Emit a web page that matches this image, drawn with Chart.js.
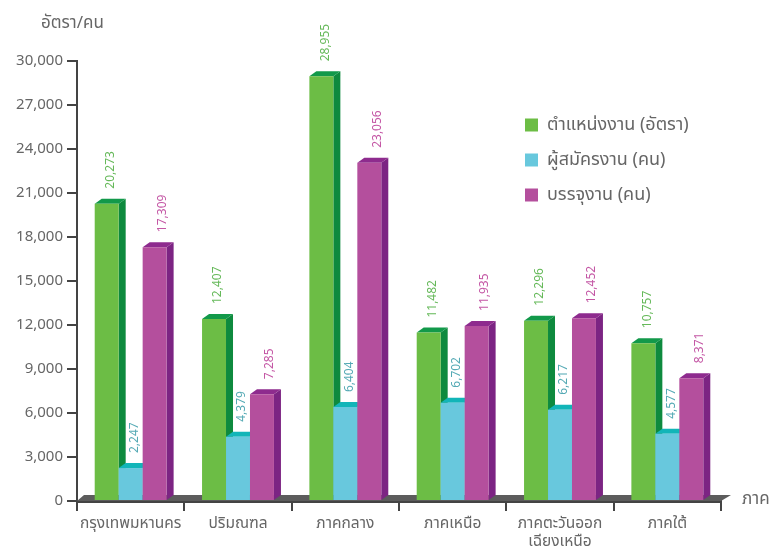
<!DOCTYPE html>
<html><head><meta charset="utf-8">
<style>html,body{margin:0;padding:0;background:#fff}canvas{display:block;filter:blur(0.5px)}</style>
<script src="https://cdn.jsdelivr.net/npm/chart.js@4"></script></head>
<body><canvas id="c" width="773" height="553"></canvas>
<script>
const categories = ['กรุงเทพมหานคร','ปริมณฑล','ภาคกลาง','ภาคเหนือ',['ภาคตะวันออก','เฉียงเหนือ'],'ภาคใต้'];
const seriesNames = ['ตำแหน่งงาน (อัตรา)','ผู้สมัครงาน (คน)','บรรจุงาน (คน)'];
const positions = [20273,12407,28955,11482,12296,10757];
const applicants = [2247,4379,6404,6702,6217,4577];
const placed = [17309,7285,23056,11935,12452,8371];
const FONT = '"Noto Sans","Noto Sans Thai","Liberation Sans",sans-serif';
const TEXT = '#666';
const front = ['#6cbd45','#68c8dd','#b44f9d'];
const side = ['#0e8a3e','#10a8ad','#7c2483'];
const topc = ['#12994a','#12b5b8','#8e2b8e'];
const labelc = ['#66b95a','#55aab5','#c457a5'];
const labelDx = [4,4,8];
const dx = 7, dy = 5;

const bar3d = {
  id:'bar3d',
  beforeDatasetDraw(){ return false; },
  afterDatasetsDraw(chart){
    const {ctx,chartArea:a} = chart;
    ctx.save();
    ctx.fillStyle='#5c5c5c';
    ctx.beginPath();ctx.moveTo(a.left,a.bottom);ctx.lineTo(a.left+dx,a.bottom-dy-1);ctx.lineTo(a.right+10,a.bottom-dy-1);ctx.lineTo(a.right,a.bottom);ctx.closePath();ctx.fill();
    ctx.restore();
    chart.data.datasets.forEach((d,i)=>{
      const meta=chart.getDatasetMeta(i);
      meta.data.forEach(b=>{
        const hw=b.width/2, l=b.x-hw, r=b.x+hw, t=b.y, bt=b.base;
        ctx.save();
        ctx.fillStyle=side[i];
        ctx.beginPath();ctx.moveTo(r,t);ctx.lineTo(r+dx,t-dy);ctx.lineTo(r+dx,bt-dy);ctx.lineTo(r,bt);ctx.closePath();ctx.fill();
        ctx.fillStyle=topc[i];
        ctx.beginPath();ctx.moveTo(l,t);ctx.lineTo(l+dx,t-dy);ctx.lineTo(r+dx,t-dy);ctx.lineTo(r,t);ctx.closePath();ctx.fill();
        ctx.restore();
      });
      meta.controller.draw();
    });
    ctx.save();
    chart.data.datasets.forEach((d,i)=>{
      chart.getDatasetMeta(i).data.forEach((b,j)=>{
        ctx.save();
        ctx.translate(b.x+labelDx[i],b.y-15);
        ctx.rotate(-Math.PI/2);
        ctx.font='12px '+FONT;ctx.fillStyle=labelc[i];ctx.textAlign='left';ctx.textBaseline='middle';
        ctx.fillText(d.data[j].toLocaleString('en-US'),0,0);
        ctx.restore();
      });
    });
    ctx.fillStyle=TEXT;ctx.font='17px '+FONT;ctx.textBaseline='middle';ctx.textAlign='left';
    ctx.fillText('อัตรา/คน',41,23);
    ctx.fillText('ภาค',742,499);
    ctx.restore();
  },
  afterLayout(chart){
    const lg=chart.legend;
    lg.left=508;lg.right=723;lg.top=99;
  }
};

new Chart(document.getElementById('c'),{
  type:'bar',
  data:{labels:categories,datasets:[positions,applicants,placed].map((v,i)=>({
    label:seriesNames[i],data:v,backgroundColor:front[i],borderWidth:0,
    categoryPercentage:0.67,barPercentage:1
  }))},
  options:{
    responsive:false,animation:false,
    layout:{padding:{left:0,right:52,top:61,bottom:0}},
    plugins:{
      tooltip:{enabled:false},
      legend:{position:'chartArea',align:'start',
        labels:{boxWidth:13,boxHeight:13,padding:17,color:TEXT,font:{family:FONT,size:18},
          sort:(a,b)=>a.datasetIndex-b.datasetIndex}}
    },
    scales:{
      x:{grid:{drawOnChartArea:false,color:'#444',lineWidth:2,tickLength:10,offset:true},
         border:{color:'#444',width:3},
         ticks:{color:TEXT,font:{family:FONT,size:15.5},maxRotation:0,autoSkip:false,padding:3},
         afterFit(s){s.height=52;}},
      y:{min:0,max:30000,grid:{drawOnChartArea:false,color:'#444',lineWidth:2,tickLength:10},
         border:{color:'#444',width:2},
         ticks:{stepSize:3000,color:TEXT,font:{family:FONT,size:15},padding:4,callback:v=>v.toLocaleString('en-US')},
         afterFit(s){s.width=77;}}
    }
  },
  plugins:[bar3d]
});
</script></body></html>
